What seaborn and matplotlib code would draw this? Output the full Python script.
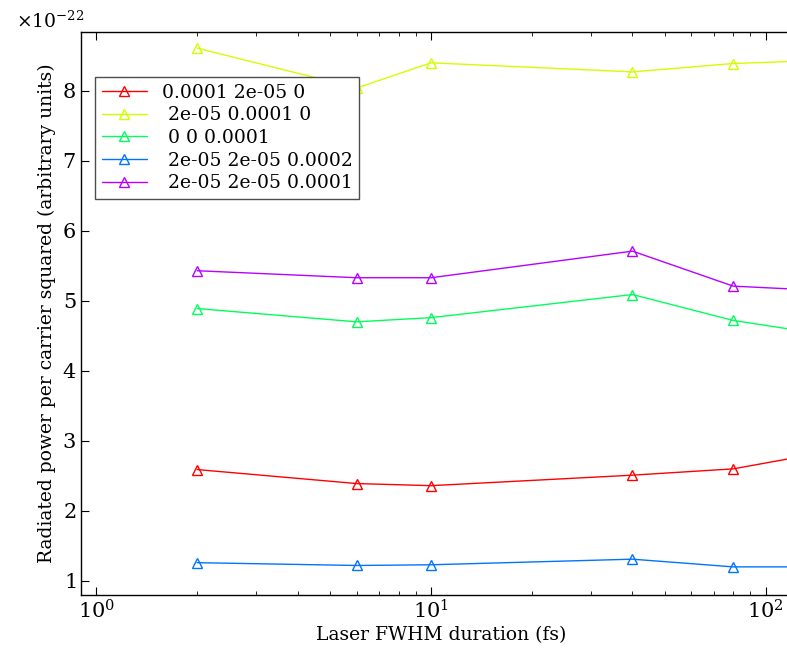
"""
Radiated power vs laser FWHM duration for several carrier settings.
Writes out.png
"""

import numpy as np
import pandas as pd
import matplotlib
matplotlib.use("Agg")
import matplotlib.pyplot as plt
import seaborn as sns

# pulse durations (fs); last point lies past the visible edge
durations = [2, 6, 10, 40, 80, 160]

labels = [
    "0.0001 2e-05 0",
    " 2e-05 0.0001 0",
    " 0 0 0.0001",
    " 2e-05 2e-05 0.0002",
    " 2e-05 2e-05 0.0001",
]

# values in units of 1e-22
power_red = [2.59, 2.39, 2.36, 2.51, 2.60, 2.86]
power_yellow = [8.61, 8.04, 8.40, 8.27, 8.39, 8.44]
power_green = [4.89, 4.70, 4.76, 5.09, 4.72, 4.50]
power_blue = [1.26, 1.22, 1.23, 1.31, 1.20, 1.20]
power_magenta = [5.43, 5.33, 5.33, 5.71, 5.21, 5.14]

series = [power_red, power_yellow, power_green, power_blue, power_magenta]
colors = [plt.cm.hsv(i / 5) for i in range(5)]


def main():
    sns.set_style("ticks")
    plt.rcParams["font.family"] = ["DejaVu Serif"]
    plt.rcParams["mathtext.fontset"] = "dejavuserif"
    for k in ["text.color", "axes.labelcolor", "xtick.color", "ytick.color",
              "axes.edgecolor"]:
        plt.rcParams[k] = "black"

    fig = plt.figure(figsize=(7.87, 6.53), dpi=100)
    # axes runs a little past the right edge of the figure
    ax = fig.add_axes([0.103, 0.089, 0.914, 0.862])

    for lab, vals, col in zip(labels, series, colors):
        df = pd.DataFrame({"fwhm": durations, "power": np.array(vals) * 1e-22})
        sns.lineplot(data=df, x="fwhm", y="power", ax=ax, color=col, label=lab,
                     marker="^", markersize=7, mfc="none", mec=col, mew=1.0,
                     linewidth=1.0)

    ax.set_xscale("log")
    ax.set_xlim(0.9, 127)
    ax.set_ylim(0.8e-22, 8.84e-22)
    ax.set_yticks(np.arange(1, 9) * 1e-22)
    ax.ticklabel_format(axis="y", style="sci", scilimits=(0, 0), useMathText=True)
    off = ax.yaxis.get_offset_text()
    off.set_fontsize(13.5)
    off.set_x(-0.09)

    ax.tick_params(which="both", direction="in", top=True, labelsize=15)
    ax.tick_params(which="major", length=6)
    ax.tick_params(which="minor", length=3)
    ax.tick_params(axis="y", which="minor", left=False, right=False)
    for s in ax.spines.values():
        s.set_linewidth(1.0)
    ax.spines["right"].set_visible(False)

    ax.set_xlabel("Laser FWHM duration (fs)", fontsize=13.5, labelpad=2)
    ax.set_ylabel("Radiated power per carrier squared (arbitrary units)", fontsize=13.5)

    leg = ax.legend(loc="upper left", bbox_to_anchor=(0.0195, 0.92), borderaxespad=0,
                    fontsize=13.5, fancybox=False, framealpha=1, edgecolor="0.3",
                    handlelength=2.4, labelspacing=0.25, borderpad=0.35)
    leg.get_frame().set_linewidth(1.0)

    fig.savefig("out.png", dpi=100)
    plt.close(fig)


if __name__ == "__main__":
    main()
